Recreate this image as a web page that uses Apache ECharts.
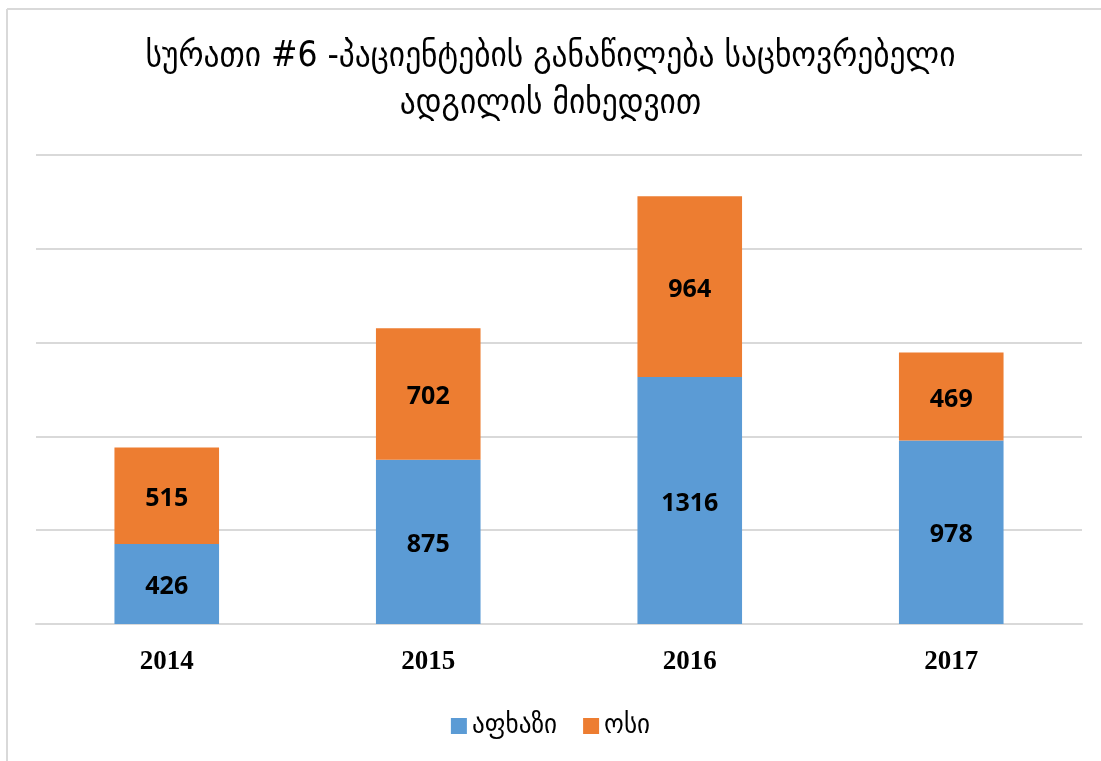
<!DOCTYPE html>
<html>
<head>
<meta charset="utf-8">
<script src="https://cdn.jsdelivr.net/npm/echarts@6/dist/echarts.min.js"></script>
<style>
  html, body { margin: 0; padding: 0; background: #fff; }
  #chart { width: 1101px; height: 761px; }
</style>
</head>
<body>
<div id="chart"></div>
<script>
// წლები
const years = ['2014', '2015', '2016', '2017']
// სერიები
const abkhaz = [426, 875, 1316, 978]
const ossetian = [515, 702, 964, 469]
const seriesNames = ['აფხაზი', 'ოსი']

const chart = echarts.init(document.getElementById('chart'))

const labelStyle = {
  show: true,
  position: 'inside',
  offset: [0, 3],
  color: '#000',
  fontSize: 25,
  fontWeight: 'bold',
  fontFamily: '"Open Sans", "Liberation Sans", sans-serif'
}

const option = {
  backgroundColor: '#fff',
  title: {
    text: 'სურათი #6 -პაციენტების განაწილება საცხოვრებელი\nადგილის მიხედვით',
    left: 'center',
    top: 28,
    textStyle: {
      fontSize: 35,
      fontWeight: 'normal',
      color: '#000',
      lineHeight: 47,
      fontFamily: '"DejaVu Sans Condensed", "DejaVu Sans", sans-serif'
    }
  },
  // ფონის ჩარჩო
  graphic: [
    { type: 'line', shape: { x1: 7, y1: 9, x2: 1101, y2: 9 }, style: { stroke: '#d9d9d9', lineWidth: 2 } },
    { type: 'line', shape: { x1: 7, y1: 9, x2: 7, y2: 761 }, style: { stroke: '#d9d9d9', lineWidth: 2 } }
  ],
  legend: {
    bottom: 16,
    left: 'center',
    itemWidth: 16,
    itemHeight: 16,
    itemGap: 26,
    icon: 'rect',
    textStyle: {
      fontSize: 28,
      color: '#000',
      fontFamily: '"DejaVu Sans Condensed", "DejaVu Sans", sans-serif'
    },
    data: seriesNames
  },
  grid: {
    left: 36,
    right: 19,
    top: 155,
    bottom: 137
  },
  xAxis: {
    type: 'category',
    data: years,
    axisTick: { show: false },
    axisLine: { lineStyle: { color: '#d9d9d9', width: 2 } },
    axisLabel: {
      margin: 25,
      fontSize: 27,
      fontWeight: 'bold',
      color: '#000',
      fontFamily: '"Liberation Serif", "DejaVu Serif", serif'
    }
  },
  yAxis: {
    type: 'value',
    min: 0,
    max: 2500,
    interval: 500,
    axisLabel: { show: false },
    axisLine: { show: false },
    axisTick: { show: false },
    splitLine: { lineStyle: { color: '#d9d9d9', width: 2 } }
  },
  series: [
    {
      name: seriesNames[0],
      type: 'bar',
      stack: 'total',
      barWidth: '40%',
      data: abkhaz,
      itemStyle: { color: '#5B9BD5' },
      label: labelStyle
    },
    {
      name: seriesNames[1],
      type: 'bar',
      stack: 'total',
      barWidth: '40%',
      data: ossetian,
      itemStyle: { color: '#ED7D31' },
      label: labelStyle
    }
  ]
}

chart.setOption(option)
</script>
</body>
</html>
